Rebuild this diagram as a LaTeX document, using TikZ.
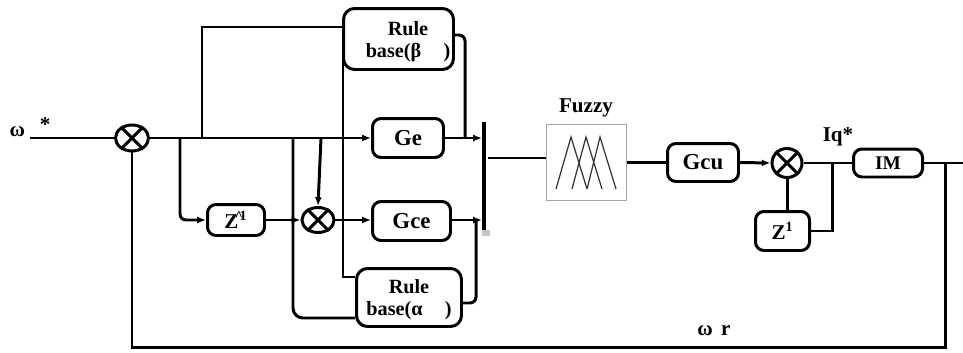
\documentclass[tikz,border=0pt]{standalone}
\usepackage{fontspec}
\setmainfont{Liberation Serif}
\usetikzlibrary{arrows.meta,shapes.geometric,calc}
\begin{document}
\begin{tikzpicture}[x=0.02cm,y=-0.02cm,line width=1.7pt,
  >={Latex[length=5pt,width=4pt]},
  blk/.style={draw,rounded corners=0.17cm,inner sep=0pt,font=\bfseries\fontsize{13}{15}\selectfont},
  rbox/.style={draw,rounded corners=0.22cm,inner sep=0pt},
  txt/.style={inner sep=0pt,font=\bfseries\fontsize{11.5}{12.5}\selectfont,align=center},
  sumn/.style={ellipse,draw,inner sep=0pt}]
\useasboundingbox (0,0) rectangle (963,352);
% blocks
\node[rbox,minimum width=2.2cm,minimum height=1.22cm] (rb) at (398.5,39) {};
\node[txt] (rbt) at (408,42) {Rule\\base(β\hspace{1.1em})};
\node[blk,minimum width=1.42cm,minimum height=0.78cm] (ge) at (408,138) {Ge};
\node[blk,minimum width=1.56cm,minimum height=0.78cm] (gce) at (411.5,221) {Gce};
\node[rbox,minimum width=2.1cm,minimum height=1.16cm] (ra) at (409,297.5) {};
\node[txt] (rat) at (409,300) {Rule\\base(α\hspace{1.1em})};
\node[blk,minimum width=1.14cm,minimum height=0.62cm,font=\bfseries\fontsize{12}{14}\selectfont] (z1) at (236,220) {Z\textsuperscript{\kern-2pt\^{}\kern-2pt1}};
\node[draw=gray!70,line width=0.8pt,minimum width=1.6cm,minimum height=1.52cm,inner sep=0pt] (fz) at (586.5,162.5) {};
\node[txt,font=\bfseries\fontsize{12}{14}\selectfont] (fzt) at (586,108) {Fuzzy};
\node[blk,minimum width=1.42cm,minimum height=0.76cm] (gcu) at (703,162.5) {Gcu};
\node[blk,minimum width=1.38cm,minimum height=0.56cm,font=\bfseries\fontsize{11}{13}\selectfont] (im) at (888,163) {IM};
\node[blk,minimum width=1.08cm,minimum height=0.78cm,font=\bfseries\fontsize{12}{14}\selectfont] (z2) at (782.5,231) {Z\textsuperscript{1}};
% summing junctions
\node[sumn,minimum width=0.66cm,minimum height=0.52cm] (s1) at (132,138) {};
\node[sumn,minimum width=0.64cm,minimum height=0.5cm] (s3) at (318,220) {};
\node[sumn,minimum width=0.6cm,minimum height=0.58cm] (s2) at (787,163) {};
\foreach \s in {s1,s2,s3}{
  \draw (\s.45) -- (\s.225) (\s.135) -- (\s.315);
}
% fuzzy membership functions
\draw[line width=0.7pt,black!80] (556,189) -- (571,137) -- (587,189)
      (572,189) -- (586,137) -- (602,189)
      (587,189) -- (600,137) -- (616,189);
% labels
\node[txt,font=\bfseries\fontsize{12}{14}\selectfont] (win) at (30,127) {ω\hspace{0.7em}\raisebox{3pt}{*}};
\node[txt,font=\bfseries\fontsize{12}{14}\selectfont] (wr) at (714,331) {ω\hspace{0.4em}r};
\node[txt,font=\bfseries\fontsize{12}{14}\selectfont] (iq) at (838,137) {Iq*};
% coordinates
\coordinate (in) at (30,138);
\coordinate (ja) at (180,138);
\coordinate (jb) at (202,138);
\coordinate (jc) at (293,138);
\coordinate (jd) at (321,138);
\coordinate (topl) at (202,27);
\coordinate (je) at (343,60);
\coordinate (jf) at (343,277);
\coordinate (botra) at (0,318);
\coordinate (busx) at (482,0);
\coordinate (bt) at (484,122);
\coordinate (bb) at (484,230);
\coordinate (rbx) at (465,0);
\coordinate (rax) at (476,0);
\coordinate (rby) at (0,35);
\coordinate (ray) at (0,303);
\coordinate (fin) at (488,158);
\coordinate (jz) at (832,163);
\coordinate (jo) at (945,163);
\coordinate (out) at (963,163);
\coordinate (boty) at (0,347);
% bus
\draw[line width=2.4pt] (bt) -- (bb);
\node[fill=gray!45,minimum width=0.16cm,minimum height=0.12cm,inner sep=0pt] (sq) at (486,233) {};
% connectors
\draw (in) -- (s1.west);
\draw[->] (s1.east) -- (ge.west);
\draw (jb) -- (topl) -- (rb.west |- topl);
\draw[->,rounded corners=0.12cm] (ja) |- (z1.west);
\draw[->] (z1.east) -- (s3.west);
\draw[->] (jd) -- (s3.north);
\draw[->] (s3.east) -- (gce.west |- s3.east);
\draw[rounded corners=0.2cm] (jc) |- (ra.west |- botra);
\draw (je) |- (ra.west |- jf);
\draw[->] (ge.east) -- (ge.east -| busx);
\draw[->] (gce.east |- s3.east) -- (busx |- s3.east);
\draw[rounded corners=0.12cm] (rb.east |- rby) -| (rbx |- ge.east);
\draw[rounded corners=0.12cm] (ra.east |- ray) -| (rax |- s3.east);
\draw (fin) -- (fz.west |- fin);
\draw (fz.east |- gcu.west) -- (gcu.west);
\draw[->] (gcu.east) -- (s2.west);
\draw (s2.east) -- (im.west);
\draw (jz) |- (z2.east);
\draw (s2.south) -- (s2.south |- z2.north);
\draw (im.east) -- (out);
\draw (jo) |- (s1.south |- boty) -- (s1.south);
\end{tikzpicture}
\end{document}
